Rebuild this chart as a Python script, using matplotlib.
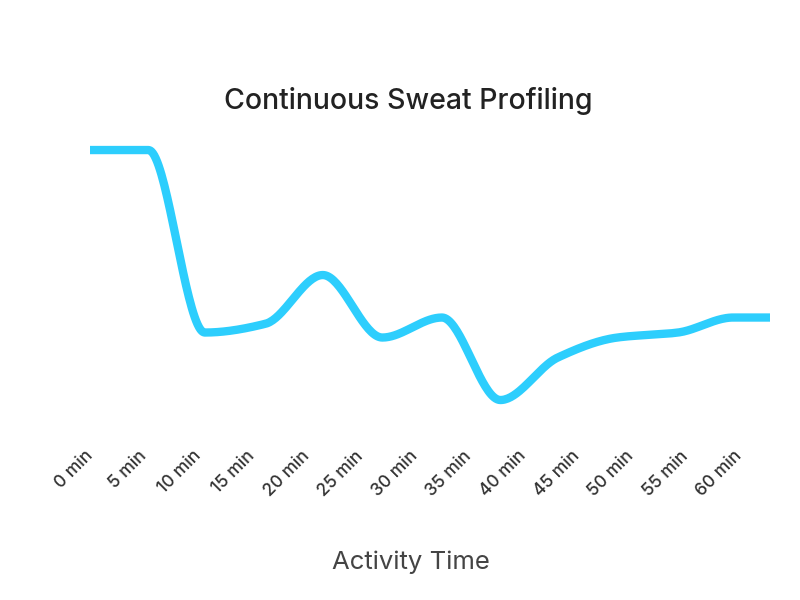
import numpy as np
import matplotlib
matplotlib.use('Agg')
import matplotlib.pyplot as plt

# sample times (minutes) and sweat rate readings
sample_times = [0, 5.4, 10.6, 16.2, 21.5, 27, 32.5, 37.9, 43.2, 48.7, 54.3, 59.4, 62.8]
sweat_rate = [120, 120, 47, 50.5, 70, 45, 53, 20, 37, 45, 47, 53, 53]

tick_minutes = list(range(0, 65, 5))
tick_labels = [f'{m} min' for m in tick_minutes]

line_color = '#2dcefd'


def monotone_curve(x, y, n=40):
    # monotone cubic (Fritsch-Carlson) just for drawing the smooth line
    x = np.asarray(x, float)
    y = np.asarray(y, float)
    h = np.diff(x)
    d = np.diff(y) / h
    m = np.zeros_like(y)
    m[0], m[-1] = d[0], d[-1]
    for k in range(1, len(y) - 1):
        if d[k - 1] * d[k] <= 0:
            m[k] = 0
        else:
            w1 = 2 * h[k] + h[k - 1]
            w2 = h[k] + 2 * h[k - 1]
            m[k] = (w1 + w2) / (w1 / d[k - 1] + w2 / d[k])
    xs, ys = [], []
    for k in range(len(h)):
        t = np.linspace(0, 1, n)
        h00 = 2 * t**3 - 3 * t**2 + 1
        h10 = t**3 - 2 * t**2 + t
        h01 = -2 * t**3 + 3 * t**2
        h11 = t**3 - t**2
        xs.append(x[k] + t * h[k])
        ys.append(h00 * y[k] + h10 * h[k] * m[k] + h01 * y[k + 1] + h11 * h[k] * m[k + 1])
    return np.concatenate(xs), np.concatenate(ys)


plt.rcParams['font.family'] = ['Inter', 'DejaVu Sans']

fig = plt.figure(figsize=(8, 6), dpi=100)
ax = fig.add_axes([0.1125, 0.2833, 0.85, 0.4833])

cx, cy = monotone_curve(sample_times, sweat_rate)
ax.plot(cx, cy, color=line_color, linewidth=6, solid_capstyle='butt', solid_joinstyle='round')

ax.set_xlim(0, 62.8)
ax.set_ylim(8, 124)
ax.set_xticks(tick_minutes)
ax.set_xticklabels(tick_labels, rotation=45, ha='right', va='center',
                   rotation_mode='anchor', fontsize=12.5, fontweight='medium',
                   color='#333333')
ax.tick_params(axis='x', length=0, pad=17)
ax.set_yticks([])
for s in ax.spines.values():
    s.set_visible(False)

fig.text(0.51, 1 - 101 / 600, 'Continuous Sweat Profiling', ha='center', va='center',
         fontsize=20.5, fontweight='medium', color='#222222')
fig.text(0.514, 1 - 562 / 600, 'Activity Time', ha='center', va='center',
         fontsize=18.5, color='#444444')

fig.savefig('out.png', dpi=100)
